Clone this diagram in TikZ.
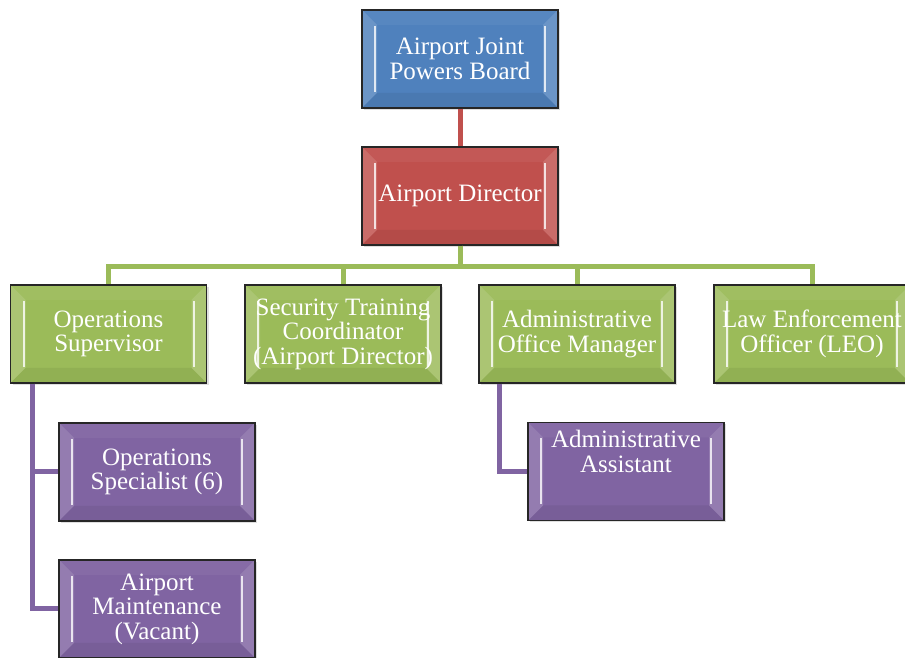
\documentclass[tikz,border=0pt]{standalone}
\usepackage{fontspec}
\setmainfont{Liberation Serif}
\usetikzlibrary{shadows}
\definecolor{boardblue}{HTML}{4F81BD}
\definecolor{directorred}{HTML}{C0504D}
\definecolor{staffgreen}{HTML}{9BBB59}
\definecolor{assistpurple}{HTML}{8064A2}
\begin{document}
\begin{tikzpicture}[x=1pt, y=1pt,
        orgbox/.style={rectangle, draw=black!85, line width=1.5pt,
            minimum width=196pt, minimum height=98pt, inner sep=2pt,
            align=center, text=white, font=\fontsize{25}{24.5}\selectfont,
            drop shadow={shadow xshift=2pt, shadow yshift=-2pt, opacity=0.25},
            path picture={
                \path (path picture bounding box.north west) coordinate (pnw)
                      (path picture bounding box.south west) coordinate (psw)
                      (path picture bounding box.north east) coordinate (pne)
                      (path picture bounding box.south east) coordinate (pse);
                \fill[white, opacity=0.16] (pnw) -- ++(15,-15) -- ([shift={(15,15)}]psw) -- (psw) -- cycle;
                \fill[white, opacity=0.16] (pse) -- ++(-15,15) -- ([shift={(-15,-15)}]pne) -- (pne) -- cycle;
                \fill[white, opacity=0.05] (pnw) -- ++(15,-15) -- ([shift={(-15,-15)}]pne) -- (pne) -- cycle;
                \fill[black, opacity=0.06] (pse) -- ++(-15,15) -- ([shift={(15,15)}]psw) -- (psw) -- cycle;
                \draw[white, opacity=0.8, line width=2pt] ([shift={(13,-16)}]pnw) -- ([shift={(13,16)}]psw);
                \draw[white, opacity=0.8, line width=2pt] ([shift={(-13,16)}]pse) -- ([shift={(-13,-16)}]pne);
            }},
        bluebox/.style={orgbox, fill=boardblue},
        redbox/.style={orgbox, fill=directorred},
        greenbox/.style={orgbox, fill=staffgreen},
        purplebox/.style={orgbox, fill=assistpurple},
        redline/.style={draw=directorred, line width=5pt},
        greenline/.style={draw=staffgreen, line width=5pt},
        purpleline/.style={draw=assistpurple, line width=5pt}
    ]
    \useasboundingbox (0,0) rectangle (905,658);
    \clip (0,0) rectangle (905,658);

    \node[bluebox] (board) at (460,599) {Airport Joint\\Powers Board};
    \node[redbox] (director) at (460,462) {Airport Director};

    \foreach \name/\x/\txt in {sup/108.5/{Operations\\Supervisor},
            sec/343/{Security Training\\Coordinator\\(Airport Director)},
            aom/577/{Administrative\\Office Manager},
            leo/812/{Law Enforcement\\Officer (LEO)}} {
            \node[greenbox] (\name) at (\x,324) {\txt};
        }

    \node[purplebox] (spec) at (157,186) {Operations\\Specialist (6)};
    \node[purplebox] (maint) at (157,49) {Airport\\Maintenance\\(Vacant)};
    \node[purplebox, text depth=40pt] (asst) at (626,186.5) {Administrative\\Assistant};

    \draw[redline] (board) -- (director);
    \foreach \name in {sup,sec,aom,leo} {
            \draw[greenline] (director.south) -- ++(0,-21) -| (\name.north);
        }
    \draw[purpleline] ([xshift=22.5]sup.south west) |- (spec.west);
    \draw[purpleline] ([xshift=22.5]sup.south west) |- (maint.west);
    \draw[purpleline] ([xshift=21]aom.south west) |- (asst.west);
\end{tikzpicture}
\end{document}
